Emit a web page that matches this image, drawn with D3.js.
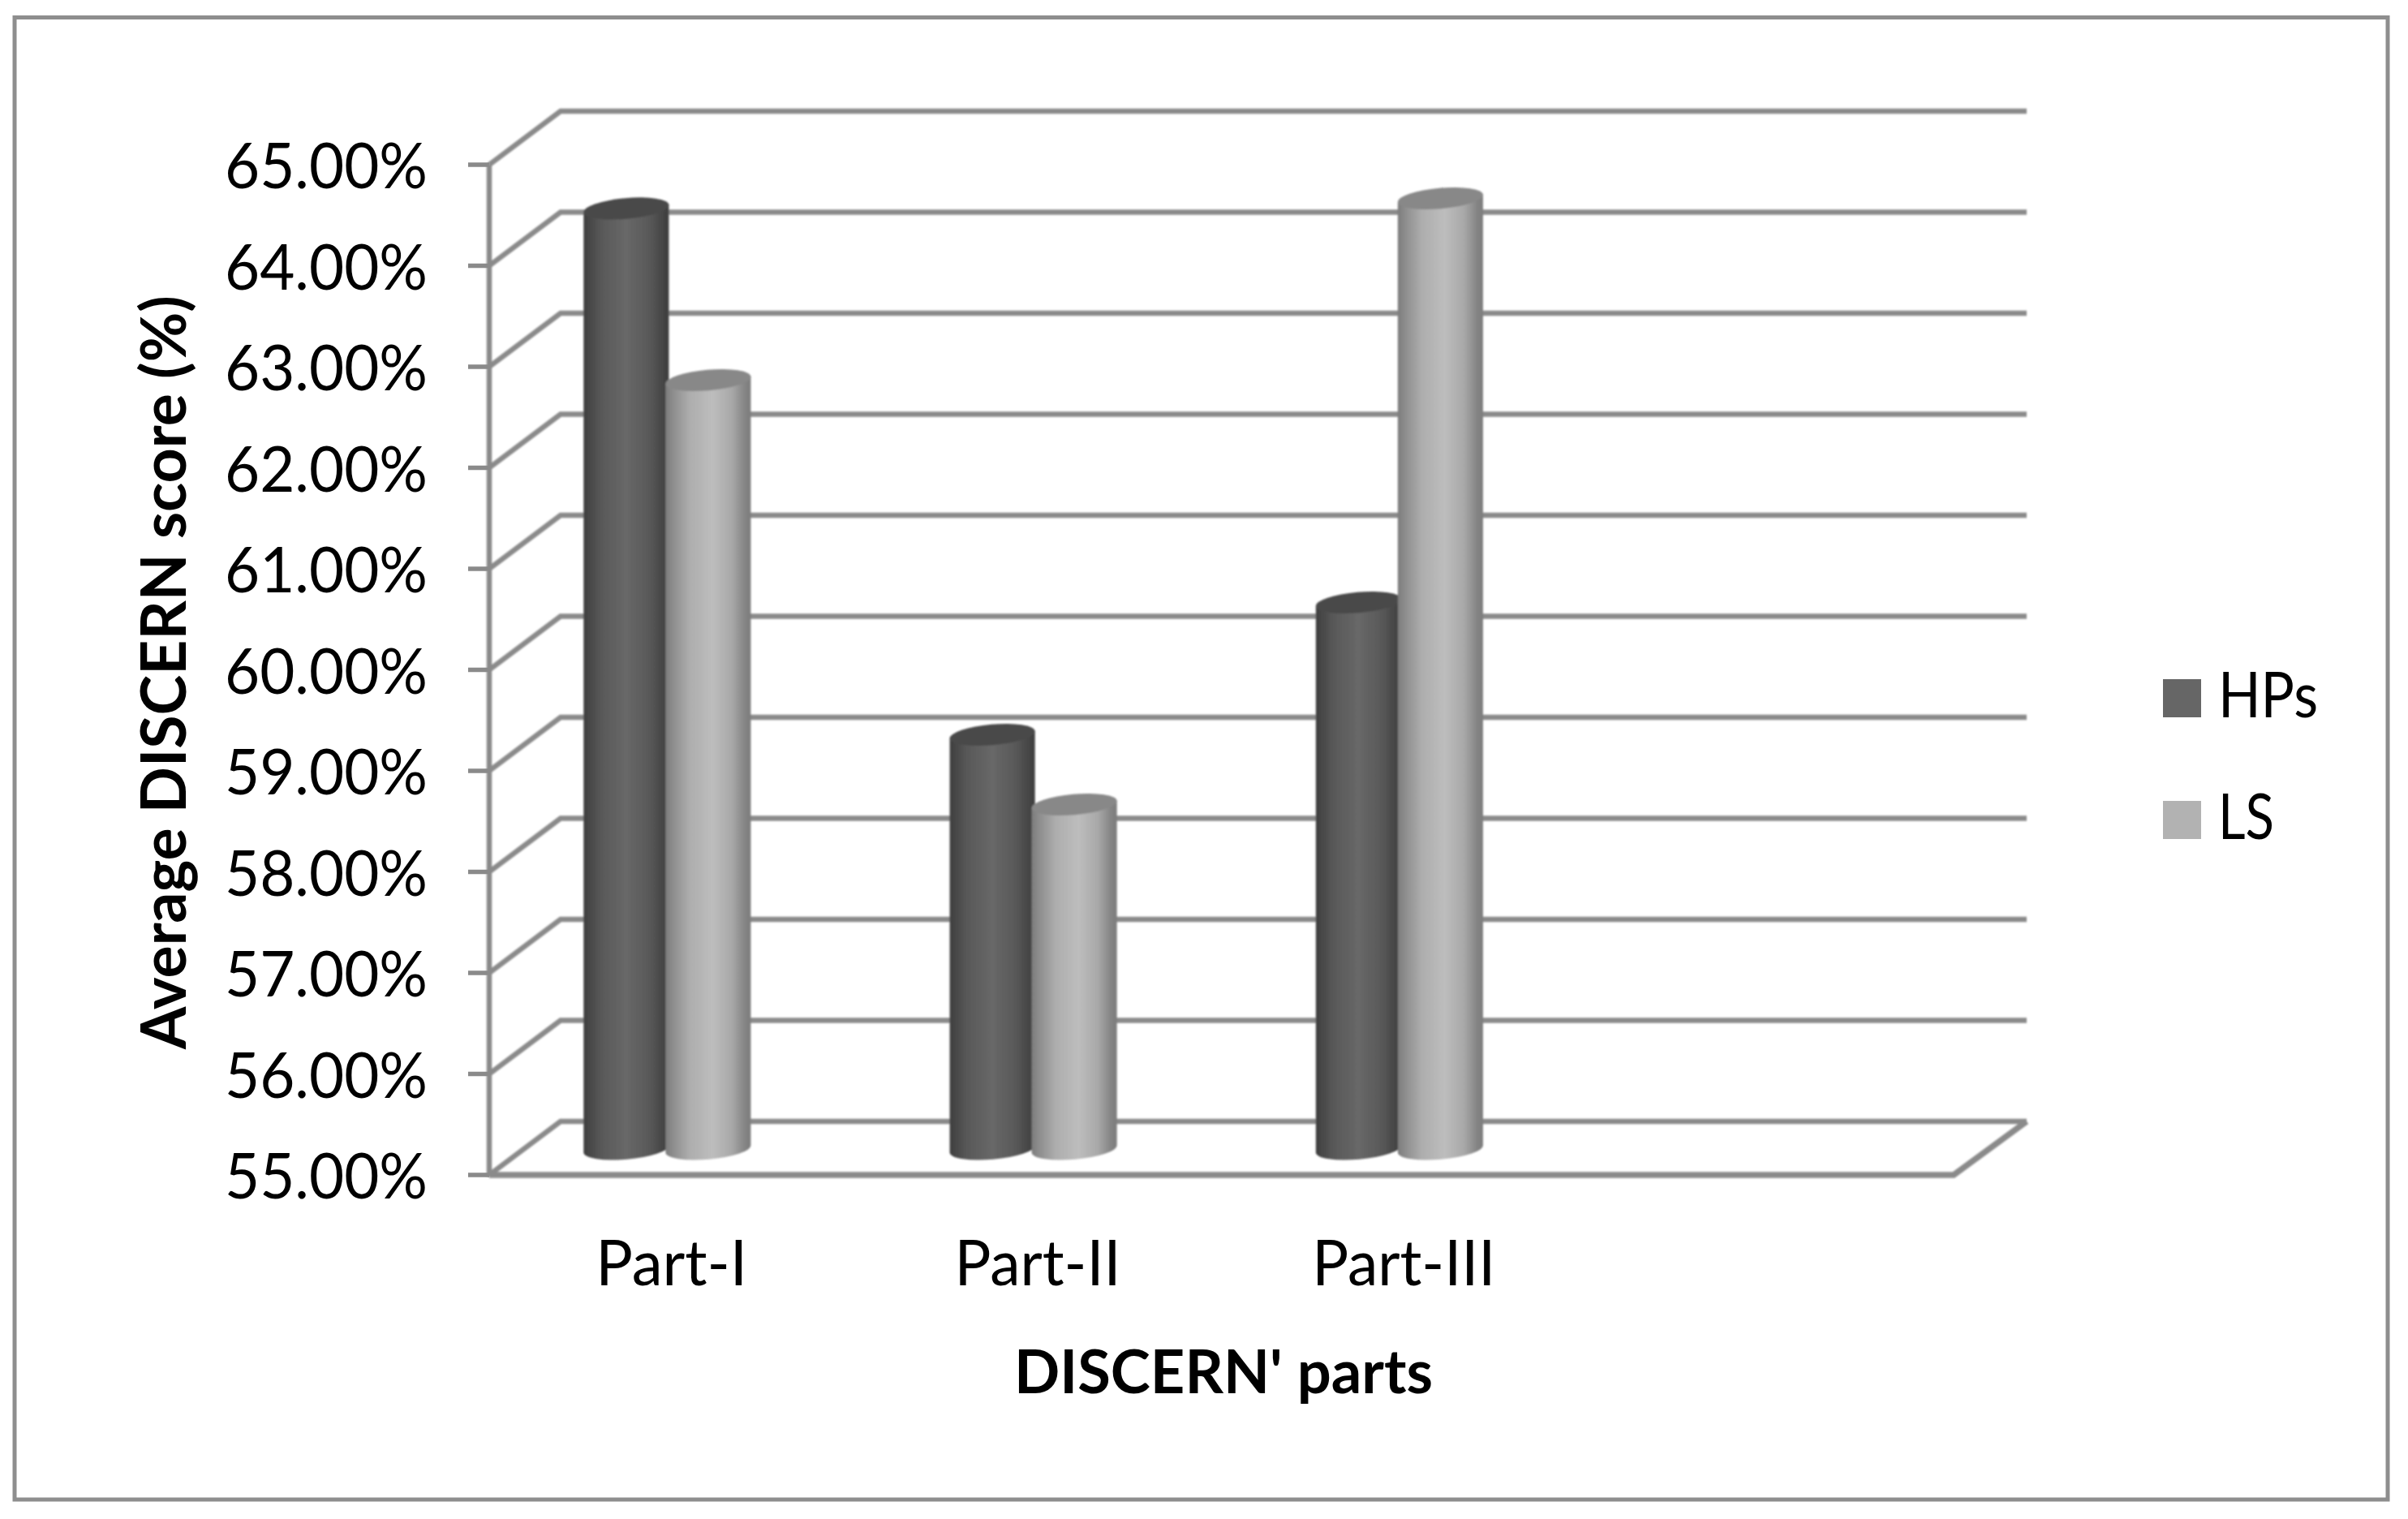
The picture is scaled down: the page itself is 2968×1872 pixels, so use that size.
<!DOCTYPE html>
<html><head><meta charset="utf-8">
<script src="https://cdnjs.cloudflare.com/ajax/libs/d3/7.8.5/d3.min.js"></script>
<style>html,body{margin:0;padding:0;background:#fff}svg{display:block}text{font-family:Lato,"Open Sans",sans-serif;fill:#000}</style>
</head><body>
<script>
const categories = ["Part-I", "Part-II", "Part-III", ""];
const seriesNames = ["HPs", "LS"];
const hpsValues = [64.31, 59.10, 60.41, null];
const lsValues = [62.61, 58.41, 64.41, null];
const yTicks = [55, 56, 57, 58, 59, 60, 61, 62, 63, 64, 65];
const yTitle = "Average DISCERN score (%)";
const xTitle = "DISCERN' parts";

const W = 2968, H = 1872, GRID = "#8a8a8a";
const svg = d3.select("body").append("svg").attr("width", W).attr("height", H);
svg.append("rect").attr("width", W).attr("height", H).attr("fill", "#fff");
const defs = svg.append("defs");
defs.append("filter").attr("id", "soft")
  .attr("filterUnits", "userSpaceOnUse").attr("x", 0).attr("y", 0).attr("width", W).attr("height", H)
  .append("feGaussianBlur").attr("stdDeviation", 0.9);
function gradient(id, stops) {
  const g = defs.append("linearGradient").attr("id", id).attr("x1", 0).attr("x2", 1).attr("y1", 0).attr("y2", 0);
  stops.forEach(([o, c]) => g.append("stop").attr("offset", o).attr("stop-color", c));
}
gradient("cylHPs", [[0, "#3e3e3e"], [.06, "#464646"], [.2, "#585858"], [.5, "#686868"], [.78, "#585858"], [.94, "#444444"], [1, "#3e3e3e"]]);
gradient("cylLS", [[0, "#7c7c7c"], [.08, "#8c8c8c"], [.28, "#adadad"], [.55, "#bdbdbd"], [.78, "#a8a8a8"], [.93, "#848484"], [1, "#7c7c7c"]]);

// frame
svg.append("rect").attr("x", 18).attr("y", 21.5).attr("width", 2925).attr("height", 1826.5)
  .attr("fill", "none").attr("stroke", "#8e8e8e").attr("stroke-width", 5);

// scales: front plane of the 3-D box, with a constant depth offset to the back wall
const x = d3.scaleBand().domain(categories).range([603, 2408]);
const y = d3.scaleLinear().domain([55, 65]).range([1448, 203]);
const depth = { dx: 88, dy: -66 };

const plot = svg.append("g").attr("filter", "url(#soft)");
const wall = plot.append("g").attr("fill", "none").attr("stroke", GRID).attr("stroke-width", 6.5);
const right = x.range()[1], left = x.range()[0];
wall.selectAll("path.grid").data(yTicks).join("path").attr("class", "grid")
  .attr("d", t => d3.line()([[left, y(t)], [left + depth.dx, y(t) + depth.dy], [right + depth.dx + 2, y(t) + depth.dy]]));
wall.append("path").attr("d", d3.line()([[left, y(55)], [right, y(55)], [right + depth.dx + 2, y(55) + depth.dy]])).attr("stroke-width", 7.5);
wall.append("line").attr("x1", left).attr("x2", left).attr("y1", y(65)).attr("y2", y(55) + 2);

// cylinders
const barW = 105.5, step = 101;
const a = barW / 2, b = 12.8, angle = -5;
const rad = angle * Math.PI / 180;
const ex = a * Math.cos(rad), ey = a * Math.sin(rad);
const baseOffset = -32;
const ringY = v => y(v) + baseOffset;
function drawSeries(values, idx, grad, topColor) {
  const g = plot.append("g");
  const data = values.map((v, i) => ({ v, c: categories[i] })).filter(d => d.v != null);
  const cx = d => x(d.c) + x.bandwidth() / 2 - 109.5 + idx * step + a;
  g.selectAll("path.side").data(data).join("path").attr("class", "side")
    .attr("fill", `url(#${grad})`)
    .attr("d", d => {
      const c = cx(d), t = ringY(d.v), o = ringY(55);
      return `M${c - ex},${t - ey}L${c - ex},${o - ey}A${a},${b} ${angle} 0 0 ${c + ex},${o + ey}L${c + ex},${t + ey}Z`;
    });
  g.selectAll("ellipse").data(data).join("ellipse")
    .attr("fill", topColor).attr("rx", a).attr("ry", b)
    .attr("transform", d => `translate(${cx(d)},${ringY(d.v)}) rotate(${angle})`);
}
drawSeries(hpsValues, 0, "cylHPs", "#4a4a4a");
drawSeries(lsValues, 1, "cylLS", "#888888");

function fit(sel, len) { return sel.attr("textLength", len).attr("lengthAdjust", "spacingAndGlyphs"); }

// y axis
const axisG = svg.append("g").attr("transform", `translate(${left},0)`)
  .call(d3.axisLeft(y).tickValues(yTicks).tickSize(26).tickPadding(0).tickFormat(d => d.toFixed(2) + "%"));
axisG.select(".domain").remove();
axisG.selectAll(".tick line").attr("stroke", GRID).attr("stroke-width", 5.5);
axisG.selectAll(".tick").attr("transform", d => `translate(0,${y(d)})`);
axisG.selectAll(".tick text").attr("x", -326).attr("y", 29).attr("dy", null)
  .attr("text-anchor", "start").attr("font-size", 77).attr("font-family", null).call(fit, 250);

// category labels
const catW = { "Part-I": 187, "Part-II": 205, "Part-III": 226 };
svg.selectAll("text.cat").data(categories.filter(c => c)).join("text").attr("class", "cat")
  .attr("x", d => x(d) + x.bandwidth() / 2 - 1).attr("y", 1584).attr("text-anchor", "middle")
  .attr("font-size", 77).text(d => d).each(function (d) { d3.select(this).call(fit, catW[d]); });

// axis titles
svg.append("text").attr("x", 1508).attr("y", 1717).attr("text-anchor", "middle")
  .attr("font-size", 75).attr("font-weight", 700).text(xTitle).call(fit, 516);
svg.append("text").attr("transform", "translate(229,828.5) rotate(-90)").attr("text-anchor", "middle")
  .attr("font-size", 76).attr("font-weight", 700).text(yTitle).call(fit, 929);

// legend
const legendColors = ["#666666", "#b2b2b2"], legendW = [123, 69];
const ly = d3.scalePoint().domain(seriesNames).range([884, 1034]);
const lg = svg.selectAll("g.leg").data(seriesNames).join("g").attr("class", "leg");
lg.append("rect").attr("x", 2666).attr("width", 47).attr("y", d => ly(d) - 47).attr("height", 47)
  .attr("fill", (d, i) => legendColors[i]);
lg.append("text").attr("x", 2734).attr("y", d => ly(d)).attr("font-size", 77).text(d => d)
  .each(function (d, i) { d3.select(this).call(fit, legendW[i]); });
</script>
</body></html>
